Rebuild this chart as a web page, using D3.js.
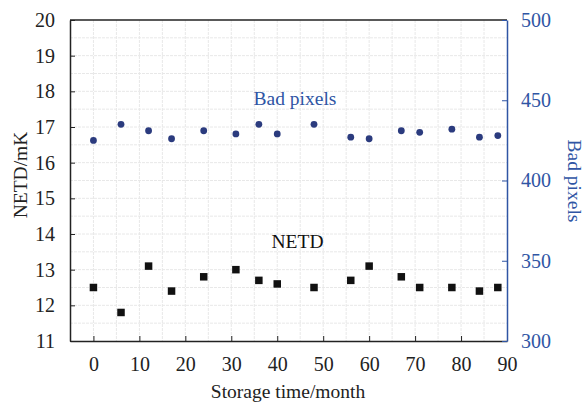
<!DOCTYPE html>
<html>
<head>
<meta charset="utf-8">
<script src="https://cdn.jsdelivr.net/npm/d3@7"></script>
<style>
  html, body { margin: 0; padding: 0; background: #fff; }
</style>
</head>
<body>
<svg id="chart" width="584" height="402"></svg>
<script>
// Storage time (months) at each measurement
const months = [0, 6, 12, 17, 24, 31, 36, 40, 48, 56, 60, 67, 71, 78, 84, 88];
// NETD in mK (left axis)
const netd = [12.5, 11.8, 13.1, 12.4, 12.8, 13.0, 12.7, 12.6, 12.5, 12.7, 13.1, 12.8, 12.5, 12.5, 12.4, 12.5];
// Bad pixel count (right axis)
const badPixels = [425, 435, 431, 426, 431, 429, 435, 429, 435, 427, 426, 431, 430, 432, 427, 428];

const xTicks = [0, 10, 20, 30, 40, 50, 60, 70, 80, 90];
const leftTicks = [11, 12, 13, 14, 15, 16, 17, 18, 19, 20];
const rightTicks = [300, 350, 400, 450, 500];

const blue = "#2f55a4";
const dotColor = "#2b3b7e";
const ink = "#222";
const serif = '"Liberation Serif"';
const tickFont = 20;
const labelFont = 19.5;

const margin = { left: 70, right: 77, top: 20, bottom: 61 };
const W = 584, H = 402;
const svg = d3.select("#chart");

const x = d3.scaleLinear().domain([-5.1, 90]).range([margin.left, W - margin.right]);
const yL = d3.scaleLinear().domain([11, 20]).range([H - margin.bottom, margin.top]);
const yR = d3.scaleLinear().domain([300, 500]).range([H - margin.bottom, margin.top]);

const x0 = margin.left, x1 = W - margin.right, y0 = H - margin.bottom, y1 = margin.top;

// light background grid
const grid = svg.append("g").attr("stroke", "#e8e8e8").attr("stroke-width", 1)
  .attr("stroke-dasharray", "3,1");
grid.selectAll("line.v").data(d3.range(0, 90, 5)).join("line")
  .attr("x1", d => x(d)).attr("x2", d => x(d)).attr("y1", y1).attr("y2", y0);
grid.selectAll("line.h").data(d3.range(11.5, 20, 0.5)).join("line")
  .attr("y1", d => yL(d)).attr("y2", d => yL(d)).attr("x1", x0).attr("x2", x1);

// frame: top line
svg.append("line").attr("x1", x0).attr("x2", x1).attr("y1", y1).attr("y2", y1)
  .attr("stroke", ink).attr("stroke-width", 1.5);

function styleTicks(g, color) {
  g.selectAll(".tick line").attr("stroke", color);
  g.selectAll(".tick text").style("font-family", serif).style("font-size", tickFont + "px")
    .attr("fill", color);
}

// bottom axis
const gx = svg.append("g").attr("transform", `translate(0,${y0})`)
  .call(d3.axisBottom(x).tickValues(xTicks).tickSizeInner(-5).tickSizeOuter(0).tickPadding(16));
gx.select(".domain").attr("stroke", ink).attr("stroke-width", 1.5);
styleTicks(gx, ink);

// left axis
const gl = svg.append("g").attr("transform", `translate(${x0},0)`)
  .call(d3.axisLeft(yL).tickValues(leftTicks).tickSizeInner(-5).tickSizeOuter(0).tickPadding(15));
gl.select(".domain").attr("stroke", ink).attr("stroke-width", 1.5);
styleTicks(gl, ink);

// right axis
const gr = svg.append("g").attr("transform", `translate(${x1},0)`)
  .call(d3.axisRight(yR).tickValues(rightTicks).tickSizeInner(-5).tickSizeOuter(0).tickPadding(14));
gr.select(".domain").attr("stroke", blue).attr("stroke-width", 1.5);
styleTicks(gr, blue);

function label(sel, color) {
  return sel.style("font-family", serif).style("font-size", labelFont + "px")
    .attr("fill", color).attr("text-anchor", "middle");
}

// axis titles
label(svg.append("text").attr("x", 288).attr("y", 398), ink).text("Storage time/month");
label(svg.append("text").attr("transform", "translate(27,175) rotate(-90)"), ink).text("NETD/mK");
label(svg.append("text").attr("transform", "translate(568,181) rotate(90)"), blue).text("Bad pixels");

// in-plot series labels
label(svg.append("text").attr("x", 295).attr("y", 105), blue).text("Bad pixels");
label(svg.append("text").attr("x", 297.5).attr("y", 248), "#111").text("NETD");

const rows = months.map((m, i) => ({ m, n: netd[i], b: badPixels[i] }));

// bad pixel dots
svg.append("g").selectAll("circle").data(rows).join("circle")
  .attr("cx", d => x(d.m)).attr("cy", d => yR(d.b)).attr("r", 3.4)
  .attr("fill", dotColor);

// NETD squares
const s = 7.5;
svg.append("g").selectAll("rect").data(rows).join("rect")
  .attr("x", d => x(d.m) - s / 2).attr("y", d => yL(d.n) - s / 2)
  .attr("width", s).attr("height", s).attr("fill", "#111");
</script>
</body>
</html>
